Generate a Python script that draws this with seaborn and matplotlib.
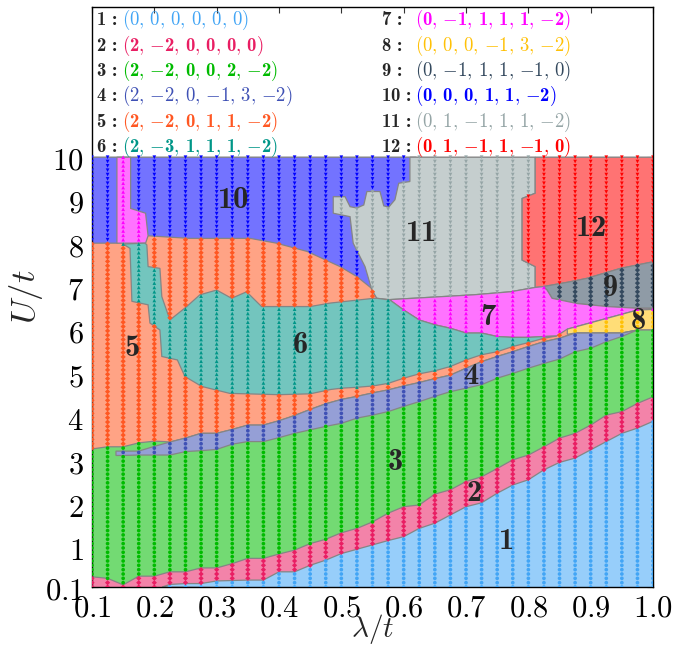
import numpy as np
import pandas as pd
import matplotlib
matplotlib.use("Agg")
import matplotlib.pyplot as plt
import seaborn as sns
from matplotlib.path import Path
from matplotlib.colors import to_rgb

# ---------------- data ----------------
phase_ids = list(range(1, 13))
phase_vectors = [
    [0, 0, 0, 0, 0, 0], [2, -2, 0, 0, 0, 0], [2, -2, 0, 0, 2, -2],
    [2, -2, 0, -1, 3, -2], [2, -2, 0, 1, 1, -2], [2, -3, 1, 1, 1, -2],
    [0, -1, 1, 1, 1, -2], [0, 0, 0, -1, 3, -2], [0, -1, 1, 1, -1, 0],
    [0, 0, 0, 1, 1, -2], [0, 1, -1, 1, 1, -2], [0, 1, -1, 1, -1, 0],
]
phase_bold = [False, True, True, False, True, True, True, False, False, True, False, True]
phase_colors = ["#42A5F5", "#E91E63", "#00BB00", "#3F51B5", "#FF5722", "#009688",
                "#FF00FF", "#FFC107", "#34495E", "#0000FF", "#95A5A6", "#FF0000"]
phase_markers = ["o", "D", "o", "o", "D", "^", "^", "o", "D", "v", "v", "v"]

# sampling grid of the computation
lam_grid = np.round(np.arange(0.1, 1.0001, 0.025), 4)
U_grid = np.round(np.arange(0.1, 10.0001, 0.1), 4)

# boundary 1 | 2
b12_lam = [0.2125, 0.225, 0.25, 0.275, 0.3, 0.325, 0.35, 0.375, 0.4, 0.425, 0.45, 0.475, 0.5,
           0.525, 0.55, 0.575, 0.6, 0.625, 0.65, 0.675, 0.7, 0.725, 0.75, 0.775, 0.8, 0.825,
           0.85, 0.875, 0.9, 0.925, 0.95, 0.975, 1.01]
b12_U = [0.1, 0.16, 0.18, 0.18, 0.24, 0.25, 0.26, 0.26, 0.45, 0.45, 0.6, 0.72, 0.87, 0.97,
         1.07, 1.17, 1.26, 1.45, 1.57, 1.76, 1.95, 2.04, 2.26, 2.45, 2.57, 2.8, 2.97, 3.07,
         3.26, 3.45, 3.64, 3.76, 3.98]
# boundary 2 | 3
b23_lam = [0.09, 0.125, 0.15, 0.175, 0.2, 0.225, 0.25, 0.275, 0.3, 0.325, 0.35, 0.375, 0.4,
           0.425, 0.45, 0.475, 0.5, 0.525, 0.55, 0.575, 0.6, 0.625, 0.65, 0.675, 0.7, 0.725,
           0.75, 0.775, 0.8, 0.825, 0.85, 0.875, 0.9, 0.925, 0.95, 0.975, 1.01]
b23_U = [0.35, 0.3, 0.15, 0.35, 0.35, 0.45, 0.45, 0.54, 0.54, 0.64, 0.76, 0.76, 0.86, 0.95,
         1.1, 1.2, 1.35, 1.45, 1.6, 1.8, 1.95, 1.99, 2.24, 2.34, 2.53, 2.64, 2.83, 3.03, 3.14,
         3.33, 3.53, 3.64, 3.83, 4.06, 4.14, 4.33, 4.54]
# top of phase 3 on the left (orange above)
g3_lam = [0.09, 0.125, 0.15, 0.175, 0.2, 0.215]
g3_U = [3.26, 3.33, 3.33, 3.42, 3.46, 3.45]
# band of phase 4
b4_lam = [0.1385, 0.15, 0.175, 0.2, 0.225, 0.25, 0.275, 0.3, 0.325, 0.35, 0.375, 0.4, 0.425,
          0.45, 0.475, 0.5, 0.525, 0.55, 0.575, 0.6, 0.625, 0.65, 0.675, 0.7, 0.725, 0.75,
          0.775, 0.8, 0.825, 0.85, 0.875, 0.9, 0.925, 0.95, 0.975]
b4_lo = [3.13, 3.13, 3.14, 3.14, 3.14, 3.22, 3.24, 3.27, 3.39, 3.45, 3.45, 3.54, 3.64, 3.72,
         3.80, 3.87, 3.99, 4.06, 4.14, 4.26, 4.37, 4.49, 4.60, 4.68, 4.76, 4.91, 5.02, 5.14,
         5.25, 5.35, 5.52, 5.60, 5.75, 5.87, 6.02]
b4_hi = [3.23, 3.23, 3.23, 3.34, 3.44, 3.53, 3.64, 3.64, 3.73, 3.83, 3.83, 3.93, 4.05, 4.19,
         4.32, 4.42, 4.49, 4.57, 4.64, 4.73, 4.81, 4.90, 4.98, 5.14, 5.29, 5.41, 5.52, 5.64,
         5.75, 5.83, 5.95, 5.95, 5.95, 5.95, 6.02]
# phase 6 lower-left edge and thin strip of phase 5 below it
t6_lo_lam = [0.150, 0.161, 0.164, 0.190, 0.193, 0.209, 0.212, 0.237, 0.249, 0.276, 0.321, 0.4,
             0.45, 0.483, 0.5, 0.525, 0.55, 0.575, 0.6, 0.625, 0.65, 0.675, 0.7, 0.725, 0.75,
             0.775, 0.8, 0.825, 0.845]
t6_lo_U = [8.00, 7.90, 6.68, 6.60, 6.18, 6.02, 5.41, 5.33, 4.95, 4.72, 4.56, 4.53, 4.55, 4.65,
           4.68, 4.70, 4.73, 4.79, 4.91, 5.01, 5.08, 5.18, 5.33, 5.45, 5.52, 5.64, 5.73, 5.83,
           5.88]
# phase 7 lower edge (phase 6 below)
b7_lo_lam = [0.578, 0.6, 0.625, 0.65, 0.675, 0.7, 0.725, 0.75, 0.775, 0.8, 0.825, 0.845]
b7_lo_U = [6.71, 6.48, 6.25, 6.14, 6.06, 5.95, 5.95, 5.87, 5.85, 5.85, 5.87, 5.88]
# phase 6 upper edge (phase 5 / 11 above), right to left
t6_hi_lam = [0.557, 0.552, 0.482, 0.45, 0.372, 0.348, 0.324, 0.300, 0.273, 0.252, 0.225,
             0.212, 0.209, 0.190, 0.188, 0.185]
t6_hi_U = [6.75, 6.75, 6.64, 6.56, 6.56, 6.90, 6.75, 6.94, 6.83, 6.56, 6.25, 6.79, 7.44, 7.48,
           7.98, 8.02]
# upper edge of phase 5 (phase 10 above)
b5_hi_lam = [0.14, 0.19, 0.257, 0.354, 0.396, 0.445, 0.498, 0.525, 0.552, 0.557]
b5_hi_U = [8.02, 8.19, 8.13, 8.13, 8.02, 7.83, 7.48, 7.25, 6.94, 6.75]
# narrow column of phase 7 at small lambda
p7_lam = [0.14, 0.14, 0.162, 0.162, 0.186, 0.19, 0.186]
p7_U = [8.02, 10.0, 10.0, 8.82, 8.71, 8.19, 8.02]
# jagged left edge of phase 11 (bottom to top)
b11_lam = [0.557, 0.549, 0.538, 0.519, 0.514, 0.487, 0.487, 0.506, 0.514, 0.525, 0.536, 0.541,
           0.562, 0.568, 0.576, 0.586, 0.592, 0.610, 0.610]
b11_U = [6.75, 6.94, 7.48, 8.02, 8.63, 8.71, 9.09, 9.09, 8.86, 8.83, 8.90, 9.21, 9.21, 8.88,
         8.85, 9.02, 9.40, 9.44, 10.0]
# edge between 11 and 12 (top to bottom)
b1112_lam = [0.811, 0.811, 0.790, 0.790, 0.811, 0.811]
b1112_U = [10.0, 9.17, 9.05, 7.63, 7.48, 7.0]
# upper edge of phase 7 (left part, 11 above)
b7_hi_lam = [0.578, 0.712, 0.771, 0.811, 0.824]
b7_hi_U = [6.72, 6.83, 6.90, 7.00, 7.02]
# phase 9 edges
b9_hi_lam = [0.824, 0.867, 0.894, 0.948, 1.01]
b9_hi_U = [7.02, 7.13, 7.21, 7.44, 7.62]
b9_lo_lam = [0.83, 0.838, 0.878, 0.926, 0.975, 1.01]
b9_lo_U = [6.94, 6.75, 6.63, 6.56, 6.52, 6.52]
# phase 8 edges
b8_lo_lam = [0.8625, 0.875, 0.95, 0.975, 1.01]
b8_lo_U = [5.92, 5.95, 5.95, 6.02, 6.02]
b8_hi_lam = [0.8625, 0.975, 1.01]
b8_hi_U = [6.04, 6.48, 6.50]

# label positions of the regions
lab_lam = [0.763, 0.713, 0.586, 0.708, 0.164, 0.434, 0.736, 0.976, 0.931, 0.325, 0.626, 0.899]
lab_U = [1.18, 2.27, 2.98, 4.98, 5.61, 5.68, 6.32, 6.25, 7.01, 9.02, 8.26, 8.37]

# ---------------- polygons from boundaries (drawing order) ----------------
def cat(*parts):
    xs, ys = [], []
    for x, y in parts:
        xs += list(x)
        ys += list(y)
    return xs, ys

rev = lambda x, y: (list(x)[::-1], list(y)[::-1])
L0, L1, Ub, Ut = 0.09, 1.01, 0.0, 10.0

polys = []
polys.append((5, [L0, L1, L1, L0], [Ub, Ub, Ut, Ut]))
polys.append((10, *cat(([L0, L0], [Ut, 8.02]), (b5_hi_lam, b5_hi_U), ([0.62, 0.62], [6.75, Ut]))))
polys.append((7, p7_lam, p7_U))
polys.append((11, *cat((b11_lam, b11_U), ([0.811], [Ut]), (b1112_lam, b1112_U),
                       rev(b7_hi_lam[:-1], b7_hi_U[:-1]))))
polys.append((12, *cat(([0.811, L1], [Ut, Ut]), rev(b9_hi_lam, b9_hi_U),
                       rev(b1112_lam[1:], b1112_U[1:]))))
polys.append((9, *cat((b9_hi_lam, b9_hi_U), rev(b9_lo_lam, b9_lo_U))))
polys.append((7, *cat((b7_hi_lam, b7_hi_U), (b9_lo_lam, b9_lo_U), rev(b8_hi_lam, b8_hi_U),
                      rev(b7_lo_lam, b7_lo_U))))
polys.append((8, *cat((b8_lo_lam, b8_lo_U), rev(b8_hi_lam, b8_hi_U))))
polys.append((6, *cat((t6_lo_lam, t6_lo_U), rev(b7_lo_lam, b7_lo_U), (t6_hi_lam, t6_hi_U))))
polys.append((3, *cat((g3_lam, g3_U), (b4_lam[4:], b4_hi[4:]), ([L1, L1, L0], [6.02, Ub, Ub]))))
polys.append((4, *cat((b4_lam, b4_hi), rev(b4_lam, b4_lo))))
polys.append((2, *cat((b23_lam, b23_U), ([L1, L0], [Ub, Ub]))))
polys.append((1, *cat((b12_lam, b12_U), ([L1], [Ub]))))

# ---------------- phase of each grid point ----------------
LL, UU = np.meshgrid(lam_grid, U_grid)
pts = np.column_stack([np.clip(LL.ravel(), 0.1001, 0.9999), np.clip(UU.ravel(), 0.1001, 9.999)])
phase = np.full(len(pts), 5)
for pid, xs, ys in polys:
    inside = Path(np.column_stack([xs, ys])).contains_points(pts)
    phase[inside] = pid
df = pd.DataFrame({"lam": LL.ravel(), "U": UU.ravel(), "phase": phase})

# ---------------- figure ----------------
sns.set_style("ticks")
plt.rcParams["font.family"] = ["DejaVu Serif"]
plt.rcParams["mathtext.fontset"] = "cm"
# "custom" math set = bold Computer Modern for the bold labels
plt.rcParams["mathtext.bf"] = "cmb10"
plt.rcParams["mathtext.rm"] = "cmr10"
plt.rcParams["mathtext.it"] = "cmmi10"
plt.rcParams["mathtext.fallback"] = "cm"

fig = plt.figure(figsize=(6.89, 6.46), dpi=100)
ax = fig.add_axes([0.1335, 0.0913, 0.8143, 0.8979])

def light(c, a=0.55):
    r, g, b = to_rgb(c)
    return (1 - a + a * r, 1 - a + a * g, 1 - a + a * b)

for pid, xs, ys in polys:
    ax.fill(xs, ys, facecolor=light(phase_colors[pid - 1]), edgecolor="#858585",
            linewidth=0.9, zorder=1)

pal = {p: phase_colors[p - 1] for p in phase_ids}
mk = {p: phase_markers[p - 1] for p in phase_ids}
sns.scatterplot(data=df, x="lam", y="U", hue="phase", style="phase", palette=pal,
                markers=mk, hue_order=phase_ids, style_order=phase_ids, s=7,
                linewidth=0, legend=False, ax=ax, zorder=3)

for i, p in enumerate(phase_ids):
    ax.text(lab_lam[i], lab_U[i], r"$\mathbf{%d}$" % p, ha="center", va="center",
            fontsize=22, zorder=5, math_fontfamily="custom")

# legend entries as text above U = 10
row_U = [13.16, 12.57, 11.99, 11.40, 10.82, 10.23]
for i, p in enumerate(phase_ids):
    col = i // 6
    r = i % 6
    xl = 0.106 if col == 0 else 0.564
    xt = 0.148 if col == 0 else 0.618
    ax.text(xl, row_U[r], r"$\mathbf{%d}\,\mathbf{:}$" % p, ha="left", va="center",
            fontsize=13.5, math_fontfamily="custom")
    if phase_bold[i]:
        items = [("{-\\mathbf{%d}}" % abs(v)) if v < 0 else (r"\mathbf{%d}" % v)
                 for v in phase_vectors[i]]
        mf = "custom"
    else:
        items = [("{-%d}" % abs(v)) if v < 0 else ("%d" % v) for v in phase_vectors[i]]
        mf = "cm"
    ax.text(xt, row_U[r], "$(" + r",\,".join(items) + ")$", ha="left", va="center",
            fontsize=13.5, color=phase_colors[i], math_fontfamily=mf)

xt_vals = [0.1, 0.2, 0.3, 0.4, 0.5, 0.6, 0.7, 0.8, 0.9, 1.0]
yt_vals = [0.1, 1, 2, 3, 4, 5, 6, 7, 8, 9, 10]
ax.set_xlim(0.1, 1.0)
ax.set_ylim(0.1, 13.46)
ax.set_xticks(xt_vals)
ax.set_xticklabels([r"$%.1f$" % v for v in xt_vals])
ax.set_yticks(yt_vals)
ax.set_yticklabels([r"$%s$" % (("%.1f" % v) if v < 1 else "%d" % v) for v in yt_vals])
ax.tick_params(direction="in", length=4, width=0.8, top=True, right=True,
               labelsize=22, colors="#333333", labelcolor="black")
ax.tick_params(axis="x", pad=4)
ax.tick_params(axis="y", pad=6)
ax.set_xlabel(r"$\lambda/t$", fontsize=21, va="center")
ax.xaxis.set_label_coords(0.5, -0.072)
ax.set_ylabel(r"$U/t$", fontsize=25, labelpad=0)
for s in ax.spines.values():
    s.set_linewidth(1.0)
    s.set_color("black")

fig.savefig("out.png", dpi=100)
